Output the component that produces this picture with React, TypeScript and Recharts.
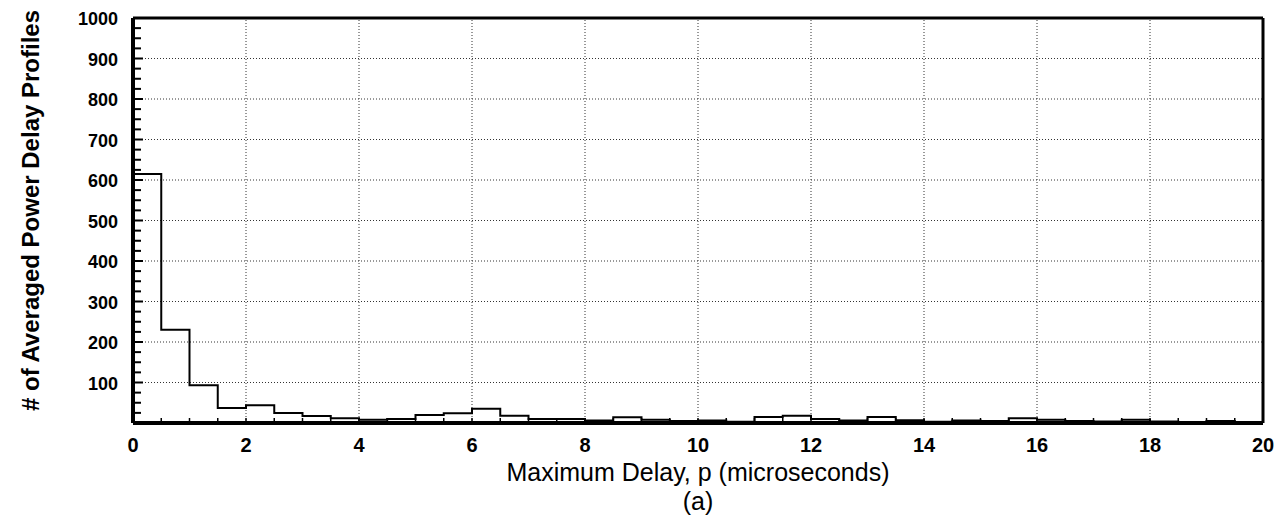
import { ComposedChart, Line, XAxis, YAxis, ReferenceLine, Label } from 'recharts';

// histogram bins (start of each 0.5 us bin) and counts
const binStart = [
  0, 0.5, 1, 1.5, 2, 2.5, 3, 3.5, 4, 4.5,
  5, 5.5, 6, 6.5, 7, 7.5, 8, 8.5, 9, 9.5,
  10, 10.5, 11, 11.5, 12, 12.5, 13, 13.5, 14, 14.5,
  15, 15.5, 16, 16.5, 17, 17.5, 18, 18.5, 19, 19.5,
];
const profileCounts = [
  615, 230, 93, 37, 44, 25, 17, 12, 8, 10,
  20, 24, 35, 18, 10, 10, 6, 14, 8, 5,
  6, 3, 15, 18, 10, 6, 15, 7, 3, 6,
  5, 12, 8, 5, 4, 8, 4, 2, 5, 2,
];
const xMax = 20;
const yMax = 1000;
const xLabels = [0, 2, 4, 6, 8, 10, 12, 14, 16, 18, 20];
const yLabels = [100, 200, 300, 400, 500, 600, 700, 800, 900, 1000];
const xGrid = [2, 4, 6, 8, 10, 12, 14, 16, 18];
const yGrid = [100, 200, 300, 400, 500, 600, 700, 800, 900];

// outline of the histogram as a step line, closed down to 0 at both ends
const stepData = [
  { x: 0, count: 0 },
  ...binStart.map((b, i) => ({ x: b, count: profileCounts[i] })),
  { x: xMax, count: profileCounts[profileCounts.length - 1] },
  { x: xMax, count: 0 },
];

const xTicks = [...binStart, xMax];
const yTicks = Array.from({ length: 41 }, (_, i) => i * 25);

const FONT = '"Liberation Sans", Arial, Helvetica, sans-serif';

const YTick = (props: any) => {
  const { x, y, payload } = props;
  const v = payload.value;
  const axisX = x + 15;
  const major = yLabels.includes(v);
  return (
    <g>
      {v > 0 && v < yMax && (
        <line x1={axisX} x2={axisX + (major ? 10 : 8)} y1={y} y2={y} stroke="#000" strokeWidth={2} />
      )}
      {major && (
        <text x={x} y={y + 7} textAnchor="end" fontFamily={FONT} fontWeight="bold" fontSize={18} fill="#000">
          {v}
        </text>
      )}
    </g>
  );
};

const XTick = (props: any) => {
  const { x, y, payload } = props;
  const v = payload.value;
  const axisY = y - 14;
  return (
    <g>
      {v > 0 && v < xMax && (
        <line x1={x} x2={x} y1={axisY} y2={axisY - 5} stroke="#000" strokeWidth={1.5} />
      )}
      {xLabels.includes(v) && (
        <text x={x} y={y + 15} textAnchor="middle" fontFamily={FONT} fontWeight="bold" fontSize={20} fill="#000">
          {v}
        </text>
      )}
    </g>
  );
};

export default function App() {
  return (
    <div style={{ position: 'absolute', left: 0, top: 0, background: '#fff' }}>
      <ComposedChart
        width={1282}
        height={525}
        data={stepData}
        margin={{ top: 18, right: 19, left: 0, bottom: 0 }}
      >
        {yGrid.map((v) => (
          <ReferenceLine key={'gy' + v} y={v} stroke="#333" strokeWidth={1} strokeDasharray="1 2" />
        ))}
        {xGrid.map((v) => (
          <ReferenceLine key={'gx' + v} x={v} stroke="#333" strokeWidth={1} strokeDasharray="1 2" />
        ))}
        <ReferenceLine y={yMax} stroke="#000" strokeWidth={3} />
        <ReferenceLine x={xMax} stroke="#000" strokeWidth={3} />
        <XAxis
          type="number"
          dataKey="x"
          domain={[0, xMax]}
          ticks={xTicks}
          interval={0}
          height={102}
          tickSize={0}
          tickMargin={14}
          tickLine={false}
          axisLine={{ stroke: '#000', strokeWidth: 4 }}
          tick={<XTick />}
        >
          <Label
            content={({ viewBox }: any) => {
              const cx = viewBox.x + viewBox.width / 2;
              return (
                <g fontFamily={FONT} fontSize={25} fill="#000" textAnchor="middle">
                  <text x={cx} y={viewBox.y + 58}>Maximum Delay, p (microseconds)</text>
                  <text x={cx} y={viewBox.y + 87}>(a)</text>
                </g>
              );
            }}
          />
        </XAxis>
        <YAxis
          type="number"
          domain={[0, yMax]}
          ticks={yTicks}
          interval={0}
          width={133}
          tickSize={0}
          tickMargin={15}
          tickLine={false}
          axisLine={{ stroke: '#000', strokeWidth: 4 }}
          tick={<YTick />}
        >
          <Label
            content={({ viewBox }: any) => {
              const cy = viewBox.y + viewBox.height / 2 - 10;
              return (
                <text
                  x={30}
                  y={cy}
                  transform={`rotate(-90, 30, ${cy})`}
                  textAnchor="middle"
                  dominantBaseline="central"
                  fontFamily={FONT}
                  fontWeight="bold"
                  fontSize={24}
                  fill="#000"
                >
                  # of Averaged Power Delay Profiles
                </text>
              );
            }}
          />
        </YAxis>
        <Line
          type="stepAfter"
          dataKey="count"
          stroke="#000"
          strokeWidth={2}
          dot={false}
          activeDot={false}
          isAnimationActive={false}
        />
      </ComposedChart>
    </div>
  );
}
